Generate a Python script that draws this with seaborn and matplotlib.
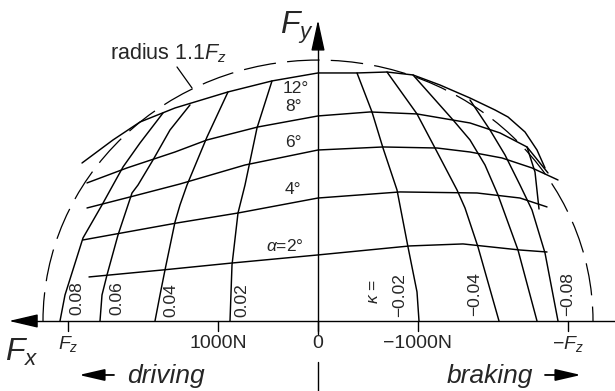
import numpy as np
import pandas as pd
import matplotlib
matplotlib.use("Agg")
import matplotlib.pyplot as plt
from matplotlib.patches import Arc
import seaborn as sns

# ---------------- data (forces in N) ----------------
FZ = 2500
# lines of constant slip angle alpha (Fx positive = driving, to the left)
a12_fx = [2360, 2050, 1780, 1430, 900, 460, 0, -390, -690, -950, -1220, -1520, -1770, -1900, -2070, -2190, -2270]
a12_fy = [1665, 1908, 2097, 2245, 2414, 2530, 2614, 2614, 2624, 2593, 2487, 2350, 2224, 2150, 1992, 1802, 1613]
a8_fx = [2310, 1910, 1430, 1110, 600, 0, -520, -990, -1520, -1820, -2090, -2300]
a8_fy = [1455, 1613, 1781, 1908, 2045, 2161, 2203, 2182, 2087, 1982, 1834, 1560]
a6_fx = [2310, 1880, 1380, 730, 0, -650, -1190, -1520, -1840, -2140, -2400]
a6_fy = [1191, 1307, 1444, 1644, 1802, 1834, 1823, 1781, 1718, 1613, 1486]
a4_fx = [2350, 1410, 800, 0, -820, -1590, -2020, -2290]
a4_fy = [854, 1033, 1138, 1296, 1360, 1349, 1296, 1202]
a2_fx = [2290, 1550, 860, 0, -920, -1450, -2020, -2290]
a2_fy = [464, 538, 611, 696, 791, 812, 748, 727]

# lines of constant longitudinal slip kappa
k08_fx = [2580, 2530, 2350, 2160, 2050, 1950, 1780, 1550]
k08_fy = [0, 274, 875, 1223, 1433, 1623, 1876, 2192]
k06_fx = [2180, 2160, 2110, 2000, 1860, 1800, 1650, 1480, 1280]
k06_fy = [0, 274, 485, 906, 1349, 1433, 1697, 2013, 2277]
k04_fx = [1630, 1580, 1530, 1430, 1380, 1310, 1110, 900]
k04_fy = [0, 274, 538, 1043, 1223, 1433, 1939, 2414]
k02_fx = [880, 860, 800, 730, 610, 460]
k02_fy = [0, 590, 1138, 1433, 2034, 2530]
km02_fx = [-1010, -990, -900, -790, -650, -540, -390]
km02_fy = [0, 306, 780, 1381, 1823, 2203, 2614]
km04_fx = [-1810, -1600, -1470, -1390, -1170, -990, -690]
km04_fy = [0, 780, 1191, 1381, 1823, 2182, 2624]
km06_fx = [-2190, -2000, -1800, -1670, -1520, -1350, -950]
km06_fy = [0, 748, 1328, 1644, 1908, 2119, 2593]
km08_fx = [-2400, -2270, -2140, -2020, -1870, -1720, -1520]
km08_fy = [0, 717, 1170, 1433, 1750, 2013, 2329]
# short unlabeled piece at the braking edge
kx_fx = [-2090, -2170, -2210]
kx_fy = [1834, 1570, 1180]

alpha_labels = ["12°", "8°", "6°", "4°", r"$\alpha$=2°"]
kappa_labels = ["0.08", "0.06", "0.04", "0.02", "−0.02", "−0.04", "−0.08"]
tick_vals = [FZ, 1000, 0, -1000, -FZ]
tick_text = [r"$F_z$", "1000N", "0", "−1000N", r"$-F_z$"]

curves = {
    "a12": (a12_fx, a12_fy), "a8": (a8_fx, a8_fy), "a6": (a6_fx, a6_fy),
    "a4": (a4_fx, a4_fy), "a2": (a2_fx, a2_fy),
    "k08": (k08_fx, k08_fy), "k06": (k06_fx, k06_fy), "k04": (k04_fx, k04_fy),
    "k02": (k02_fx, k02_fy), "km02": (km02_fx, km02_fy), "km04": (km04_fx, km04_fy),
    "km06": (km06_fx, km06_fy), "km08": (km08_fx, km08_fy), "kx": (kx_fx, kx_fy),
}
frames = []
for name, (fx, fy) in curves.items():
    frames.append(pd.DataFrame({"Fx": fx, "Fy": fy, "curve": name}))
df = pd.concat(frames, ignore_index=True)

# ---------------- figure ----------------
sns.set_theme(style="white")
plt.rcParams["font.family"] = ["Liberation Sans", "DejaVu Sans"]
plt.rcParams["mathtext.fontset"] = "custom"
plt.rcParams["mathtext.rm"] = "Liberation Sans"
plt.rcParams["mathtext.it"] = "Liberation Sans:italic"
plt.rcParams["mathtext.default"] = "it"

fig = plt.figure(figsize=(6.15, 3.91), dpi=100)
ax = fig.add_axes([0, 0, 1, 1])
ax.set_xlim(3180, -2970)
ax.set_ylim(-738, 3383)
ax.axis("off")

# helpers to place annotations by picture position
def X(px):
    return (318 - px) * 10.0

def Y(py):
    return (321 - py) * 10.54

sns.lineplot(data=df, x="Fx", y="Fy", units="curve", estimator=None, sort=False,
             color="black", lw=1.05, ax=ax, legend=False)

# dashed circle radius 1.1 Fz
ax.add_patch(Arc((0, 0), 2 * 1.1 * FZ, 2 * 1.1 * FZ, theta1=0, theta2=180,
                 color="black", lw=0.9, linestyle=(3, (26, 9))))

# axes
ax.plot([X(28), X(615)], [0, 0], color="black", lw=1.0)
ax.annotate("", xy=(X(9), 0), xytext=(X(32), 0),
            arrowprops=dict(arrowstyle="-|>,head_length=1.5,head_width=0.35",
                            color="black", lw=1.0, shrinkA=0, shrinkB=0))
ax.plot([0, 0], [Y(334), Y(40)], color="black", lw=1.0)
ax.plot([0, 0], [Y(362), Y(395)], color="black", lw=1.0)
ax.annotate("", xy=(0, Y(20)), xytext=(0, Y(42)),
            arrowprops=dict(arrowstyle="-|>,head_length=1.6,head_width=0.35",
                            color="black", lw=1.0, shrinkA=0, shrinkB=0))

for v, t in zip(tick_vals, tick_text):
    ax.plot([v, v], [0, Y(331)], color="black", lw=1.0)
    ax.text(v, Y(344), t, ha="center", va="center", fontsize=14)

ax.text(X(22), Y(352), r"$F_x$", ha="center", va="center", fontsize=23)
ax.text(X(297), Y(28), r"$F_y$", ha="center", va="center", fontsize=23)

# alpha labels
for t, (px, py) in zip(alpha_labels, [(296, 89), (293, 107), (293, 143), (293, 190), (285, 246)]):
    ax.text(X(px), Y(py), t, ha="center", va="center", fontsize=12.5)

# kappa labels (rotated)
for t, (px, py) in zip(kappa_labels, [(77, 298), (117, 298), (171, 300), (242, 300),
                                      (400, 295), (475, 294), (568, 294)]):
    ax.text(X(px), Y(py), t, ha="center", va="center", fontsize=12.5, rotation=90)
ax.text(X(374), Y(292), r"$\kappa$ =", ha="center", va="center", fontsize=12.5, rotation=90)

# radius label
ax.text(X(110), Y(53), r"radius 1.1$F_z$", ha="left", va="center", fontsize=15.5)
ax.plot([X(177), X(192)], [Y(67), Y(88)], color="black", lw=0.9)

# driving / braking
ax.text(X(127), Y(376), "driving", ha="left", va="center", fontsize=19, style="italic")
ax.annotate("", xy=(X(79), Y(375)), xytext=(X(114), Y(375)),
            arrowprops=dict(arrowstyle="-|>,head_length=1.3,head_width=0.3",
                            color="black", lw=1.3, shrinkA=0, shrinkB=0))
ax.text(X(447), Y(376), "braking", ha="left", va="center", fontsize=19, style="italic")
ax.annotate("", xy=(X(581), Y(375)), xytext=(X(545), Y(375)),
            arrowprops=dict(arrowstyle="-|>,head_length=1.3,head_width=0.3",
                            color="black", lw=1.3, shrinkA=0, shrinkB=0))

fig.savefig("out.png", dpi=100)
